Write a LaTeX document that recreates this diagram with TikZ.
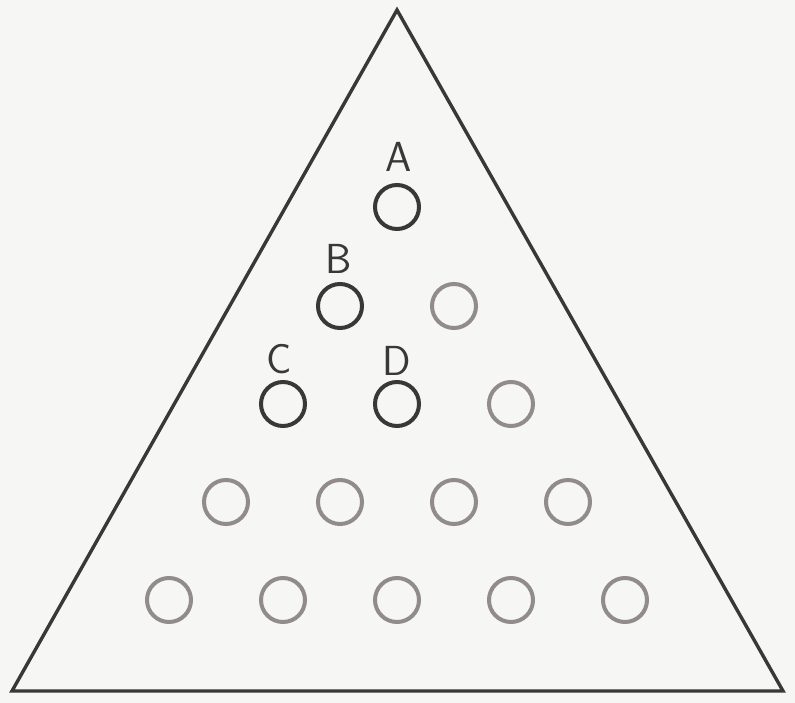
\documentclass[tikz,border=0pt]{standalone}
\usepackage{tikz}
\usetikzlibrary{positioning}
\definecolor{paper}{HTML}{F6F6F5}
\definecolor{ink}{HTML}{393737}
\definecolor{faded}{HTML}{918C8A}
\tikzset{
peg/.style={circle, draw=ink, line width=4pt, minimum size=44pt, inner sep=0pt},
fadedpeg/.style={peg, draw=faded},
lbl/.style={text=ink, font=\sffamily\fontsize{42}{42}\selectfont, inner sep=0pt}
}
\begin{document}
\begin{tikzpicture}[x=1pt,y=-1pt]
\fill[paper] (0,0) rectangle (795,703);
\useasboundingbox (0,0) rectangle (795,703);
\coordinate (top) at (397,10);
\coordinate (left) at (12,691);
\coordinate (right) at (783,691);
\draw[ink, line width=3.4pt, line join=miter] (top) -- (left) -- (right) -- cycle;
% marked pegs
\node[peg] (pA) at (397,207) {};
\node[peg] (pB) at (340,306) {};
\node[peg] (pC) at (283,404) {};
\node[peg] (pD) at (397,404) {};
% the other pegs
\node[fadedpeg] (p12) at (454,306) {};
\node[fadedpeg] (p23) at (511,404) {};
\foreach \x [count=\i] in {226,340,454,568}
  \node[fadedpeg] (p3\i) at (\x,502) {};
\foreach \x [count=\i] in {169,283,397,511,625}
  \node[fadedpeg] (p4\i) at (\x,600) {};
% labels
\node[lbl] (lA) at (399,157) {A};
\node[lbl] (lB) at (339,259) {B};
\node[lbl] (lC) at (279,359) {C};
\node[lbl] (lD) at (397,361) {D};
\end{tikzpicture}
\end{document}
